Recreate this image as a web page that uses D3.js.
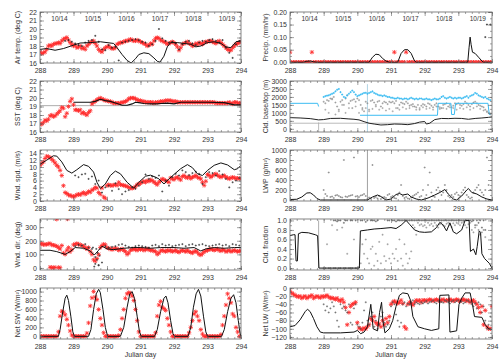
<!DOCTYPE html>
<html>
<head>
<meta charset="utf-8">
<script src="https://cdn.jsdelivr.net/npm/d3@7"></script>
<style>
body{margin:0;background:#fff}
svg{display:block}
text{font-family:"Liberation Sans",Arial,sans-serif;fill:#333}
</style>
</head>
<body>
<script>
// time grid of the hourly-ish obs: start day, step (days)
var gridStart = 288, gridStep = 0.05;
var dotStart = 288.05, dotStep = 0.1;
var days = [288, 289, 290, 291, 292, 293, 294];
var dateLabels = ["10/14", "10/15", "10/16", "10/17", "10/18", "10/19"];
var dateDays = [288.58, 289.58, 290.58, 291.58, 292.58, 293.58];

// ---- air temperature
var airRed = [
 17.3,17.1,17.2,17.3,17.6,18.0,18.1,18.0,18.2,18.3,18.3,18.4,18.3,18.6,18.8,18.9,19.0,18.7,18.4,18.2,
 18.0,18.1,17.8,17.9,18.0,17.7,17.8,17.6,18.0,18.2,18.4,18.5,18.6,18.3,18.0,17.6,17.4,17.3,17.6,17.8,
 17.9,18.0,17.8,17.7,17.7,17.8,18.2,18.3,18.4,18.4,18.5,18.6,18.6,18.7,18.8,18.7,18.6,18.6,18.7,18.6,
 18.5,18.4,18.3,18.2,18.0,18.1,18.3,18.2,18.6,18.9,19.0,18.9,18.7,18.6,18.5,18.4,18.2,18.3,18.4,18.5,
 18.4,18.2,17.9,17.5,17.8,18.2,18.3,18.4,18.5,18.3,18.2,18.0,18.1,18.3,18.2,18.4,18.3,18.2,18.4,18.5,
 18.5,18.6,18.6,18.5,18.4,18.3,18.5,18.6,18.4,18.2,18.0,17.8,17.6,17.5,17.5,17.8,18.0,18.2,18.3,18.4,
 18.5];
var airDots = [
 null,null,null,null,null,null,null,18.6,18.7,18.5,
 18.3,18.1,18.0,18.4,18.6,18.7,19.2,18.5,17.6,17.5,
 18.1,17.8,17.9,16.3,18.4,18.5,18.6,18.7,18.8,18.7,
 18.5,18.4,18.0,18.2,18.6,20.0,18.9,18.6,18.4,18.5,
 18.3,17.6,18.2,18.5,18.6,18.3,18.1,18.4,18.6,18.5,
 18.7,18.8,18.6,18.4,18.7,17.8,17.2,16.6,18.2,18.6];
var airModel = [[288,17.6],[288.2,17.7],[288.45,17.5],[288.7,17.7],[289.0,18.1],[289.2,18.35],[289.5,18.4],
 [289.8,18.5],[290.0,18.4],[290.2,18.3],[290.3,17.8],[290.45,17.0],[290.6,16.3],[290.72,16.0],[290.85,16.5],
 [290.95,17.0],[291.1,17.2],[291.25,17.1],[291.4,16.6],[291.5,16.2],[291.58,16.1],[291.7,16.8],[291.8,17.9],
 [291.9,18.4],[292.1,18.4],[292.3,18.3],[292.5,18.2],[292.65,17.9],[292.8,18.0],[293.0,18.4],[293.2,18.5],
 [293.4,18.3],[293.55,17.9],[293.7,17.8],[293.85,18.5],[294,18.6]];

// ---- SST
var sstRed = [
 17.0,16.9,17.1,17.4,17.3,17.5,17.9,18.0,17.8,17.9,18.1,18.3,18.5,18.9,18.8,17.8,18.2,19.0,19.6,19.9,
 19.2,18.6,18.6,18.5,18.6,18.2,18.3,18.1,18.0,18.3,18.5,19.3,19.5,19.6,19.8,19.9,20.0,19.9,19.8,19.7,
 19.7,19.6,19.6,19.5,19.4,19.4,19.4,19.4,19.4,19.5,19.5,19.6,19.7,19.9,20.0,20.0,20.0,19.9,19.8,19.7,
 19.7,19.6,19.6,19.5,19.5,19.5,19.5,19.5,19.4,19.5,19.5,19.5,19.6,19.6,19.6,19.7,19.7,19.7,19.7,19.6,
 19.6,19.6,19.5,19.5,19.5,19.5,19.5,19.5,19.5,19.5,19.5,19.5,19.5,19.5,19.5,19.5,19.5,19.5,19.5,19.5,
 19.5,19.5,19.5,19.5,19.5,19.4,19.4,19.4,19.4,19.4,19.4,19.4,19.4,19.5,19.4,19.3,19.5,19.5,19.4,19.4,
 19.4];
var sstModel = [[289.0,19.5],[289.5,19.5],[289.65,19.6],[289.8,19.85],[289.95,19.7],[290.1,19.6],[290.3,19.35],
 [290.45,19.15],[290.6,19.15],[290.75,19.3],[290.85,19.5],[290.95,19.45],[291.1,19.35],[291.3,19.3],[291.5,19.3],
 [291.6,19.35],[291.8,19.4],[292.0,19.3],[292.2,19.5],[292.6,19.5],[293.0,19.5],[293.5,19.45],[293.8,19.2],[294,19.2]];
var sstRef = 19.1;

// ---- wind speed
var wspRed = [
 10.5,11.0,11.5,12.5,13.2,13.0,12.8,12.3,11.8,11.2,10.5,10.0,9.0,7.5,4.5,2.5,2.2,1.8,1.6,1.5,
 1.2,1.5,1.8,2.0,1.8,2.2,2.5,2.0,2.3,2.8,2.6,3.2,3.5,4.0,3.8,2.5,2.0,3.8,1.2,0.8,
 4.5,4.8,4.6,4.5,4.7,4.8,4.6,5.5,4.8,4.7,4.6,4.4,4.3,4.0,3.8,3.7,3.9,4.2,4.8,5.0,
 5.2,5.6,5.8,5.5,6.0,5.8,6.2,6.0,5.6,5.2,4.8,5.5,6.0,6.5,6.3,6.0,5.8,5.5,6.8,6.5,
 6.3,6.8,7.0,6.6,6.2,7.2,7.5,7.0,6.8,7.2,6.6,7.0,7.2,7.5,7.0,6.8,6.5,5.5,4.6,5.8,
 7.8,7.5,7.0,7.4,7.8,8.0,7.6,7.2,7.0,7.3,7.5,7.0,6.8,6.5,6.8,7.0,6.8,6.6,6.7,6.6,
 6.6];
var wspDots = [
 null,null,null,null,null,null,null,null,null,null,
 7.5,7.0,7.8,8.0,6.5,7.2,5.0,6.0,2.5,4.0,
 4.5,3.0,5.2,3.5,2.0,2.8,3.2,4.0,3.6,4.5,
 5.5,7.8,6.5,7.2,6.8,7.5,2.8,6.0,4.5,7.0,
 8.0,7.5,9.0,8.5,7.6,8.2,8.6,8.0,5.0,7.0,
 8.5,8.2,7.5,8.8,7.8,6.5,4.0,5.5,6.0,6.8];
var wspModel = [[288,10.8],[288.2,12],[288.4,13.3],[288.5,13.2],[288.65,11.5],[288.8,9.0],[288.95,8.2],[289.1,9.2],
 [289.3,10.7],[289.45,10.2],[289.6,8.5],[289.7,5.5],[289.8,3.7],[289.95,5.0],[290.1,7.5],[290.25,8.8],[290.4,8.0],
 [290.6,5.5],[290.8,3.8],[290.95,5.5],[291.15,7.3],[291.3,7.6],[291.45,7.0],[291.55,6.5],[291.7,5.0],[291.85,6.5],
 [292.0,7.8],[292.2,9.5],[292.4,10.7],[292.55,9.8],[292.7,8.0],[292.85,7.5],[293.0,9.0],[293.2,10.5],[293.4,11.2],
 [293.6,10.6],[293.8,9.2],[293.9,9.5],[294,10.5]];

// ---- wind direction
var wdirRed = [
 175,180,170,175,172,178,180,170,168,165,160,150,140,165,110,100,130,150,120,135,
 170,175,180,175,170,165,160,150,140,150,120,100,60,50,70,100,150,165,175,170,
 150,145,140,135,140,145,140,130,135,140,130,120,100,110,130,135,140,135,130,140,
 135,140,130,135,140,135,130,130,125,120,100,110,125,130,125,120,130,125,130,120,
 125,130,120,115,125,130,125,120,130,120,115,110,120,125,115,100,95,105,120,125,
 130,135,140,135,130,135,140,130,125,135,130,120,125,130,120,125,130,125,120,125,
 125];
var wdirRedExtra = [[288.3,5],[288.35,3],[288.4,2],[288.45,4],[288.55,3],[288.6,2],[288.5,358],[288.82,360]];
var wdirDots = [
 null,null,null,null,null,null,null,null,null,null,
 160,170,165,175,150,140,80,20,40,160,
 150,155,160,170,175,165,155,150,160,165,
 160,155,150,165,170,160,175,165,170,160,
 165,170,175,160,170,175,165,170,175,165,
 160,165,170,175,165,170,160,175,170,165];
var wdirDotsExtra = [[289.58,150],[289.62,10],[289.65,30],[289.68,140],[289.7,60],[289.72,110],[289.75,20],[289.78,90]];
var wdirModel = [[288,130],[288.3,130],[288.5,120],[288.75,100],[288.9,120],[289.05,150],[289.3,145],[289.5,125],
 [289.62,95],[289.75,130],[289.85,160],[290.0,140],[290.2,135],[290.5,145],[290.8,150],[291.0,150],[291.3,145],
 [291.6,150],[292.0,150],[292.3,145],[292.6,150],[292.8,125],[292.95,140],[293.2,150],[293.5,145],[293.8,150],[294,150]];

// ---- net shortwave
var swRed = [
 0,0,0,0,0,0,0,0,0,0,0,100,450,560,540,480,380,250,120,30,
 0,0,0,0,0,0,0,0,70,300,680,860,1000,880,820,600,400,250,80,0,
 0,0,0,0,0,0,0,20,150,400,600,850,950,980,960,900,800,600,350,100,
 0,0,0,0,0,0,0,0,0,80,450,700,780,650,620,580,400,250,100,0,
 0,0,0,0,0,0,0,0,0,80,200,350,500,550,450,350,150,50,0,0,
 0,0,0,0,0,0,0,0,40,250,450,700,950,850,750,500,450,200,100,0,
 0];
var swModel = [[288,0],[288.55,0],[288.6,150],[288.68,550],[288.75,850],[288.8,920],[288.85,800],[288.92,450],[288.98,100],[289.03,0],
 [289.45,0],[289.52,150],[289.6,600],[289.68,950],[289.75,1050],[289.8,980],[289.88,600],[289.95,200],[290.02,0],
 [290.4,0],[290.5,200],[290.6,650],[290.68,950],[290.75,1000],[290.82,850],[290.9,450],[290.97,100],[291.02,0],
 [291.42,0],[291.5,150],[291.6,550],[291.7,850],[291.76,900],[291.82,750],[291.9,350],[291.97,60],[292.02,0],
 [292.42,0],[292.5,200],[292.58,650],[292.66,950],[292.73,1050],[292.8,900],[292.88,450],[292.95,100],[293.0,0],
 [293.42,0],[293.5,150],[293.6,550],[293.7,850],[293.78,930],[293.85,750],[293.92,350],[293.97,80],[294,0]];

// ---- precipitation
var prRed = [
 0.04,0,0,0,0,0,0,0,0,0,0,0,0,0.04,0,0,0,0,0,0,
 0,0,0,0,0,0,0,0,0,0,0,0,0,0,0,0,0,0,0,0,
 0,0,0,0,0,0,0,0,0,0,0,0,0,0,0,0,0,0,0,0,
 0,0,0.04,0,0,0,0,0,0,0.04,0,0,0,0,0,0,0,0,0,0,
 0,0,0,0,0,0,0,0,0,0,0,0,0,0,0,0,0,0,0,0,
 0,0,0,0,0,0,0,0,0,0,0,0,0,0,0,0,0,0,0,0,
 0];
var prModel = [[288,0],[288.4,0],[288.5,0.004],[288.6,0.005],[288.7,0.002],[288.8,0],[290.35,0],[290.45,0.02],
 [290.55,0.032],[290.65,0.03],[290.75,0.015],[290.85,0.005],[290.95,0],[291.2,0],[291.3,0.035],[291.4,0.05],
 [291.5,0.05],[291.6,0.035],[291.7,0.005],[291.75,0],[293.28,0],[293.32,0.06],[293.35,0.1],[293.38,0.07],
 [293.42,0.04],[293.5,0.035],[293.6,0.02],[293.7,0.005],[293.75,0],[294,0]];
var prDots = [[293.8,0.1],[293.85,0.15],[293.92,0.2],[293.95,0.15]];

// ---- cloud base / top
var topLine = [[288,1600],[288.82,1600],[288.85,1400]];
var topObs = [
 null,null,null,null,null,null,null,null,null,null,null,null,null,null,null,null,null,null,null,null,
 2000,2050,2080,2100,2150,2200,2250,2350,2450,2500,2300,2150,2000,1950,2100,2200,2300,2400,2300,2150,
 2050,2100,2150,2200,2250,2260,2200,2250,2300,2350,2250,2200,2150,2100,2100,2050,2100,2050,2000,2000,
 1950,1950,1900,1900,1950,1900,1900,1850,1900,1900,1850,1900,1950,1900,1850,1900,1850,1900,1900,1850,
 1850,1900,1850,1850,1800,1850,1900,1850,1850,1900,2000,2050,1950,1900,1950,2000,1950,1900,1950,1900,
 1950,1950,1900,1950,2000,2050,1950,2050,2100,2150,2250,2200,2100,2050,2000,1950,2000,1900,1850,1800,
 null];
var baseLine = [[290.08,850],[292.38,850],[292.4,1600],[292.78,1600],[292.8,900],[292.88,900],[292.92,1600],
 [293.88,1600],[293.92,900],[293.95,900]];
var baseObs = [
 null,null,null,null,null,null,null,null,null,null,null,null,null,null,null,null,null,null,null,null,
 1700,1600,1800,1750,1900,1850,2000,1650,1400,1200,1700,1800,1500,1900,2100,1600,1750,1300,1850,1700,
 1900,1800,1500,1300,1100,1700,1600,1200,1750,1800,1650,1500,1700,1750,1400,1600,1700,1650,1550,1700,
 1650,1700,1600,1750,1300,1500,1650,1600,1550,1700,1600,1450,1500,1550,1400,1350,1500,1200,1450,1550,
 1500,1400,1600,1550,1450,1350,1500,1600,1400,1250,1300,1500,1550,1600,1400,1500,1350,1450,1600,1550,
 1600,1500,1450,1550,1700,1600,1500,1400,1550,1650,1700,1600,1500,1450,1400,1350,1200,1100,1000,900,
 null];
var baseObs2 = [
 null,null,null,null,null,null,null,null,null,null,
 1200,1000,1900,900,1100,1500,1000,1300,1800,1400,
 1000,1200,1300,1100,1250,1400,1200,1300,1150,1250,
 1100,1300,1200,1350,1250,1300,1400,1200,1300,1350,
 1250,1300,1200,1400,1350,1300,1250,1350,1300,1200,
 1300,1250,1350,1200,1300,1400,1250,1150,1050,950];
var baseModel = [[288,700],[288.3,680],[288.6,640],[288.85,560],[289.0,580],[289.2,650],[289.5,660],[289.75,620],
 [289.9,600],[290.05,560],[290.2,450],[290.35,350],[290.5,300],[290.7,240],[290.9,260],[291.1,300],[291.3,290],
 [291.5,260],[291.7,330],[291.85,420],[292.0,460],[292.05,300],[292.15,350],[292.3,580],[292.5,650],[292.7,640],
 [292.9,660],[293.1,650],[293.3,600],[293.5,650],[293.7,680],[293.9,720],[294,750]];
var cldRef = 350, cldMarkDay = 290.3, cldMarkTop = 2800;

// ---- liquid water path
var lwpModel = [[288,10],[288.2,15],[288.35,60],[288.5,140],[288.6,145],[288.7,100],[288.8,30],[288.9,0],[290.3,0],
 [290.45,60],[290.6,100],[290.7,70],[290.85,0],[291.0,20],[291.15,110],[291.25,130],[291.35,100],[291.5,120],
 [291.6,60],[291.75,20],[291.9,0],[292.1,40],[292.3,100],[292.45,150],[292.6,210],[292.7,120],[292.85,20],
 [292.95,0],[293.1,80],[293.25,200],[293.3,230],[293.4,150],[293.55,120],[293.7,60],[293.85,20],[294,0]];
var lwpObs = [
 null,null,null,null,null,null,null,null,null,null,null,null,null,null,null,null,null,null,null,null,
 200,120,80,550,60,70,40,90,100,80,60,50,800,70,60,80,90,100,850,70,
 80,60,90,100,120,80,20,50,30,700,40,60,30,80,20,50,60,40,100,120,
 60,80,40,30,100,150,300,80,40,60,30,20,50,80,100,120,150,60,80,200,
 650,100,300,550,150,80,60,200,250,180,100,150,300,200,80,50,100,60,120,150,
 100,80,150,200,250,100,60,30,50,150,200,250,300,200,150,100,200,850,300,200,
 null];
var lwpMarkDay = 290.3;

// ---- cloud fraction
var cfModel = [[288,0.68],[288.1,0.7],[288.15,0.7],[288.18,0.15],[288.22,0.15],[288.25,0.72],[288.35,0.75],
 [288.55,0.74],[288.75,0.7],[288.82,0.68],[288.86,0.0],[290.06,0.0],[290.09,0.78],[290.3,0.8],[290.5,0.82],
 [290.7,0.83],[291.0,0.85],[291.15,0.83],[291.3,0.9],[291.45,1.0],[291.55,0.92],[291.7,0.8],[291.85,0.76],
 [292.0,0.75],[292.2,0.76],[292.35,0.85],[292.45,0.96],[292.55,0.9],[292.65,0.78],[292.75,0.95],[292.85,0.76],
 [292.95,0.72],[293.1,0.8],[293.2,1.0],[293.32,1.0],[293.36,0.35],[293.45,0.4],[293.52,0.28],[293.56,0.45],
 [293.62,0.78],[293.66,0.75],[293.7,0.3],[293.78,0.2],[293.85,0.15],[293.92,0.1],[294,0]];
var cfObsA = [
 null,null,null,null,null,null,null,null,null,null,null,null,null,null,null,null,null,null,null,null,
 null,null,null,null,null,null,1,1,0.98,1,1,null,0.95,1,1,null,1,1,null,1,
 null,null,1,1,null,0.97,1,null,1,1,1,0.98,1,null,null,null,null,null,1,1,
 null,1,1,0.98,1,1,1,1,1,1,1,1,1,1,1,1,1,1,1,1,
 1,1,1,1,1,1,1,1,1,1,1,1,1,1,1,1,1,1,1,1,
 1,1,1,1,1,1,1,1,0.98,1,0.9,1,0.95,1,0.85,1,0.8,null,null,null,
 null];
var cfObsB = [
 null,null,null,null,null,null,null,null,null,null,null,null,null,null,null,null,null,null,null,null,
 0,0,0.5,0,0,0.9,0,0,0.8,0,0,0.85,0,0,0.3,0,0,0,0.6,0,
 0,0.02,0.1,0.5,0.3,0.6,0.2,0.1,0.4,0.45,0.05,0.3,0.15,0.55,0.1,0.7,0.25,0.15,0.5,0.2,
 0.1,0.3,0.2,0.4,0.15,0.6,0.2,0.05,0.5,0.3,0.1,0.2,0.35,0.9,0.85,0.7,0.95,0.9,0.92,0.88,
 0.9,0.85,0.95,0.9,0.93,0.88,0.95,0.9,0.85,0.92,0.95,0.9,0.88,0.93,0.95,0.9,0.86,0.94,0.9,0.95,
 0.93,0.9,0.95,0.97,0.9,0.85,0.92,0.95,0.8,0.75,0.85,0.9,0.8,0.7,0.75,0.8,0.65,null,null,null,
 null];
var cfMarkDay = 288.85;

// ---- net longwave
var lwRed = [
 -8,-12,-15,-18,-20,-22,-20,-25,-22,-20,-25,-22,-20,-18,-25,-22,-20,-22,-24,-20,
 -22,-20,-18,-22,-25,-24,-26,-28,-25,-30,-32,-28,-35,-48,-90,-60,-45,-40,-38,-35,
 -85,-98,-100,-102,-98,-100,-95,-90,-75,-80,-70,-85,-90,-88,-95,-80,-90,-75,-85,-70,
 -40,-35,-32,-35,-38,-35,-30,-38,-95,-100,-40,-35,-38,-42,-35,-30,-32,-30,-35,-30,
 -30,-32,-30,-28,-30,-32,-30,-28,-30,-32,-30,-28,-32,-30,-30,-28,-30,-32,-30,-28,
 -30,-32,-30,-28,-30,-32,-30,-35,-32,-30,-35,-40,-48,-60,-45,-90,-55,-95,-100,-100,
 -45];
var lwObs = [
 null,null,null,null,null,null,null,null,null,null,null,null,null,null,null,null,null,null,null,null,
 -40,-55,-45,-60,-50,-35,-45,-60,-80,-95,-40,-50,-45,-55,-60,-40,-85,-90,-50,-40,
 -90,-95,-100,-85,-55,-35,-80,-90,-70,-60,-95,-80,-100,-90,-70,-60,-85,-95,-90,-80,
 -45,-35,-40,-65,-80,-95,-85,-40,-35,-45,-38,-40,-35,-30,-40,-35,-38,-40,-35,-38,
 -35,-32,-38,-35,-33,-30,-35,-38,-32,-35,-34,-36,-30,-32,-35,-38,-33,-30,-35,-32,
 -30,-35,-33,-38,-35,-30,-32,-35,-40,-45,-38,-50,-35,-40,-60,-45,-80,-100,-90,-70,
 null];
var lwModel = [[288,-95],[288.15,-92],[288.3,-78],[288.45,-58],[288.52,-52],[288.6,-58],[288.7,-75],[288.8,-95],
 [288.9,-108],[289.0,-110],[289.5,-110],[289.9,-108],[290.0,-104],[290.1,-112],[290.2,-108],[290.3,-95],
 [290.4,-40],[290.47,-100],[290.6,-105],[290.66,-60],[290.72,-35],[290.76,-80],[290.82,-110],[290.95,-100],
 [291.05,-80],[291.15,-45],[291.25,-18],[291.35,-12],[291.5,-14],[291.58,-30],[291.65,-70],[291.8,-95],
 [292.0,-100],[292.2,-104],[292.42,-100],[292.45,-18],[292.72,-17],[292.75,-108],[292.95,-105],[293.02,-40],
 [293.1,-25],[293.2,-12],[293.35,-12],[293.42,-40],[293.48,-70],[293.7,-72],[293.8,-90],[293.9,-100],[294,-102]];

// ------------------------------------------------------------------
var W = 504, H = 360;
var svg = d3.select("body").append("svg").attr("width", W).attr("height", H);
var cols = [[40, 241], [290, 492]];
var tops = [12, 81, 150, 219, 288], ph = 51;
var titleX = [20, 268];

var star = "M-2.2,0H2.2M0,-2.2V2.2M-1.7,-1.7L1.7,1.7M-1.7,1.7L1.7,-1.7";
var plus = "M-1,0H1M0,-1V1";
var red = "#ff2a2a", cyan = "#3cbcf2", ink = "#444";

function onGrid(arr, start, step) {
    return arr.map(function(v, i) { return [start + i * step, v]; })
              .filter(function(d) { return d[1] != null; });
}

function panel(c, r, dom, ticks, minor, fmt, title) {
    var x = d3.scaleLinear().domain([288, 294]).range(cols[c]);
    var y = d3.scaleLinear().domain(dom).range([tops[r] + ph, tops[r]]);
    var x0 = cols[c][0], x1 = cols[c][1], y0 = tops[r], y1 = tops[r] + ph;
    var id = "clip" + c + r;
    svg.append("clipPath").attr("id", id).append("rect")
        .attr("x", x0).attr("y", y0).attr("width", x1 - x0).attr("height", ph);
    var g = svg.append("g");
    var plot = g.append("g").attr("clip-path", "url(#" + id + ")");

    var xMinor = d3.range(288, 294.001, 0.2);
    var yMinor = d3.range(ticks[0], dom[1] + 1e-9, minor).concat(d3.range(ticks[0], dom[0] - 1e-9, -minor));

    var axes = g.append("g").attr("class", "axes");
    axes.append("g").attr("transform", "translate(0," + y1 + ")")
        .call(d3.axisBottom(x).tickValues(days).tickSize(-4).tickPadding(5).tickFormat(d3.format("d")));
    axes.append("g").attr("transform", "translate(0," + y1 + ")")
        .call(d3.axisBottom(x).tickValues(xMinor).tickSize(-2).tickFormat(""));
    axes.append("g").attr("transform", "translate(0," + y0 + ")")
        .call(d3.axisTop(x).tickValues(days).tickSize(-4).tickFormat(""));
    axes.append("g").attr("transform", "translate(0," + y0 + ")")
        .call(d3.axisTop(x).tickValues(xMinor).tickSize(-2).tickFormat(""));
    axes.append("g").attr("transform", "translate(" + x0 + ",0)")
        .call(d3.axisLeft(y).tickValues(ticks).tickSize(-4).tickPadding(3).tickFormat(fmt));
    axes.append("g").attr("transform", "translate(" + x0 + ",0)")
        .call(d3.axisLeft(y).tickValues(yMinor).tickSize(-2).tickFormat(""));
    axes.append("g").attr("transform", "translate(" + x1 + ",0)")
        .call(d3.axisRight(y).tickValues(ticks).tickSize(-4).tickFormat(""));
    axes.append("g").attr("transform", "translate(" + x1 + ",0)")
        .call(d3.axisRight(y).tickValues(yMinor).tickSize(-2).tickFormat(""));
    axes.selectAll(".domain").remove();
    axes.selectAll("line").attr("stroke", "#666").attr("stroke-width", 0.6);
    axes.selectAll("text").attr("font-size", 7).attr("fill", ink)
        .attr("font-family", "Liberation Sans, Arial, sans-serif");

    g.append("rect").attr("x", x0).attr("y", y0).attr("width", x1 - x0).attr("height", ph)
        .attr("fill", "none").attr("stroke", "#666").attr("stroke-width", 0.8);

    g.append("text")
        .attr("transform", "translate(" + titleX[c] + "," + (y0 + ph / 2) + ") rotate(-90)")
        .attr("text-anchor", "middle").attr("font-size", 7).attr("fill", ink).text(title);

    return {x: x, y: y, g: plot};
}

function line(p, pts, color, w) {
    p.g.append("path").datum(pts)
        .attr("d", d3.line().x(function(d) { return p.x(d[0]); }).y(function(d) { return p.y(d[1]); }))
        .attr("fill", "none").attr("stroke", color).attr("stroke-width", w || 1);
}

function marks(p, pts, sym, color, w) {
    p.g.append("g").selectAll("path").data(pts).enter().append("path")
        .attr("transform", function(d) { return "translate(" + p.x(d[0]) + "," + p.y(d[1]) + ")"; })
        .attr("d", sym).attr("fill", "none").attr("stroke", color).attr("stroke-width", w);
}

function vmark(p, day, lo, hi, color) {
    line(p, [[day, lo], [day, hi]], color, 0.8);
}

function dates(p) {
    p.g.selectAll(".date").data(dateLabels).enter().append("text")
        .attr("x", function(d, i) { return p.x(dateDays[i]); })
        .attr("y", tops[0] + 9).attr("text-anchor", "middle")
        .attr("font-size", 6.5).attr("fill", "#222").text(function(d) { return d; });
}

var f0 = d3.format("d");

// left column
var pAir = panel(0, 0, [16, 22], d3.range(16, 22.1, 1), 0.5, f0, "Air temp. (deg C)");
marks(pAir, onGrid(airRed, gridStart, gridStep), star, red, 0.8);
marks(pAir, onGrid(airDots, dotStart, dotStep), plus, "#222", 0.7);
line(pAir, airModel, "#111", 1);
dates(pAir);

var pSst = panel(0, 1, [16, 22], d3.range(16, 22.1, 1), 0.5, f0, "SST (deg C)");
line(pSst, [[288, sstRef], [294, sstRef]], "#999", 0.8);
marks(pSst, onGrid(sstRed, gridStart, gridStep), star, red, 0.8);
line(pSst, sstModel, "#111", 1.2);

var pWsp = panel(0, 2, [0, 15], d3.range(0, 14.1, 2), 1, f0, "Wnd. spd. (m/s)");
marks(pWsp, onGrid(wspRed, gridStart, gridStep), star, red, 0.8);
marks(pWsp, onGrid(wspDots, dotStart, dotStep), plus, "#333", 0.7);
line(pWsp, wspModel, "#111", 1);

var pWdir = panel(0, 3, [-15, 360], [0, 100, 200, 300], 50, f0, "Wnd. dir. (deg)");
marks(pWdir, onGrid(wdirRed, gridStart, gridStep).concat(wdirRedExtra), star, red, 0.8);
marks(pWdir, onGrid(wdirDots, dotStart, dotStep).concat(wdirDotsExtra), plus, "#333", 0.7);
line(pWdir, wdirModel, "#111", 1);

var pSw = panel(0, 4, [-60, 1080], d3.range(0, 1001, 200), 100, f0, "Net SW (W/m\u00b2)");
marks(pSw, onGrid(swRed, gridStart, gridStep), star, red, 0.8);
line(pSw, swModel, "#111", 1);

// right column
var pPr = panel(1, 0, [-0.003, 0.2], d3.range(0, 0.2001, 0.05), 0.025, d3.format(".2f"), "Precip. (mm/hr)");
marks(pPr, onGrid(prRed, gridStart, gridStep), star, red, 0.8);
marks(pPr, prDots, plus, "#222", 0.7);
line(pPr, prModel, "#111", 1);
dates(pPr);

var pCld = panel(1, 1, [-200, 3000], d3.range(0, 3001, 500), 250, f0, "Cld. base/top (m)");
line(pCld, [[288, cldRef], [294, cldRef]], "#aaa", 0.8);
vmark(pCld, cldMarkDay, -200, cldMarkTop, "#9cc6dc");
vmark(pCld, 288.85, -200, 400, "#aaa");
marks(pCld, onGrid(baseObs, gridStart, gridStep), plus, "#888", 0.6);
marks(pCld, onGrid(baseObs2, dotStart, dotStep), plus, "#999", 0.6);
line(pCld, topLine, cyan, 1);
line(pCld, baseLine, cyan, 1);
marks(pCld, onGrid(topObs, gridStart, gridStep), plus, cyan, 0.9);
line(pCld, baseModel, "#222", 1);

var pLwp = panel(1, 2, [-20, 1000], d3.range(0, 1001, 200), 100, f0, "LWP (g/m\u00b2)");
vmark(pLwp, lwpMarkDay, -20, 1000, "#888");
marks(pLwp, onGrid(lwpObs, gridStart, gridStep), plus, "#777", 0.6);
line(pLwp, lwpModel, "#111", 1);

var pCf = panel(1, 3, [-0.04, 1.03], d3.range(0, 1.001, 0.2), 0.1, d3.format(".1f"), "Cld. fraction");
vmark(pCf, cfMarkDay, 0, 1, "#999");
marks(pCf, onGrid(cfObsA, gridStart, gridStep), plus, "#555", 0.6);
marks(pCf, onGrid(cfObsB, gridStart, gridStep), plus, "#888", 0.6);
line(pCf, cfModel, "#111", 1);

var pLw = panel(1, 4, [-125, 0], d3.range(-120, 0.1, 20), 10, f0, "Net LW (W/m\u00b2)");
marks(pLw, onGrid(lwRed, gridStart, gridStep), star, red, 0.8);
marks(pLw, onGrid(lwObs, gridStart, gridStep), plus, "#555", 0.6);
line(pLw, lwModel, "#111", 1);

// x titles
[0, 1].forEach(function(c) {
    svg.append("text").attr("x", (cols[c][0] + cols[c][1]) / 2).attr("y", 357)
        .attr("text-anchor", "middle").attr("font-size", 7).attr("fill", ink).text("Julian day");
});
</script>
</body>
</html>
